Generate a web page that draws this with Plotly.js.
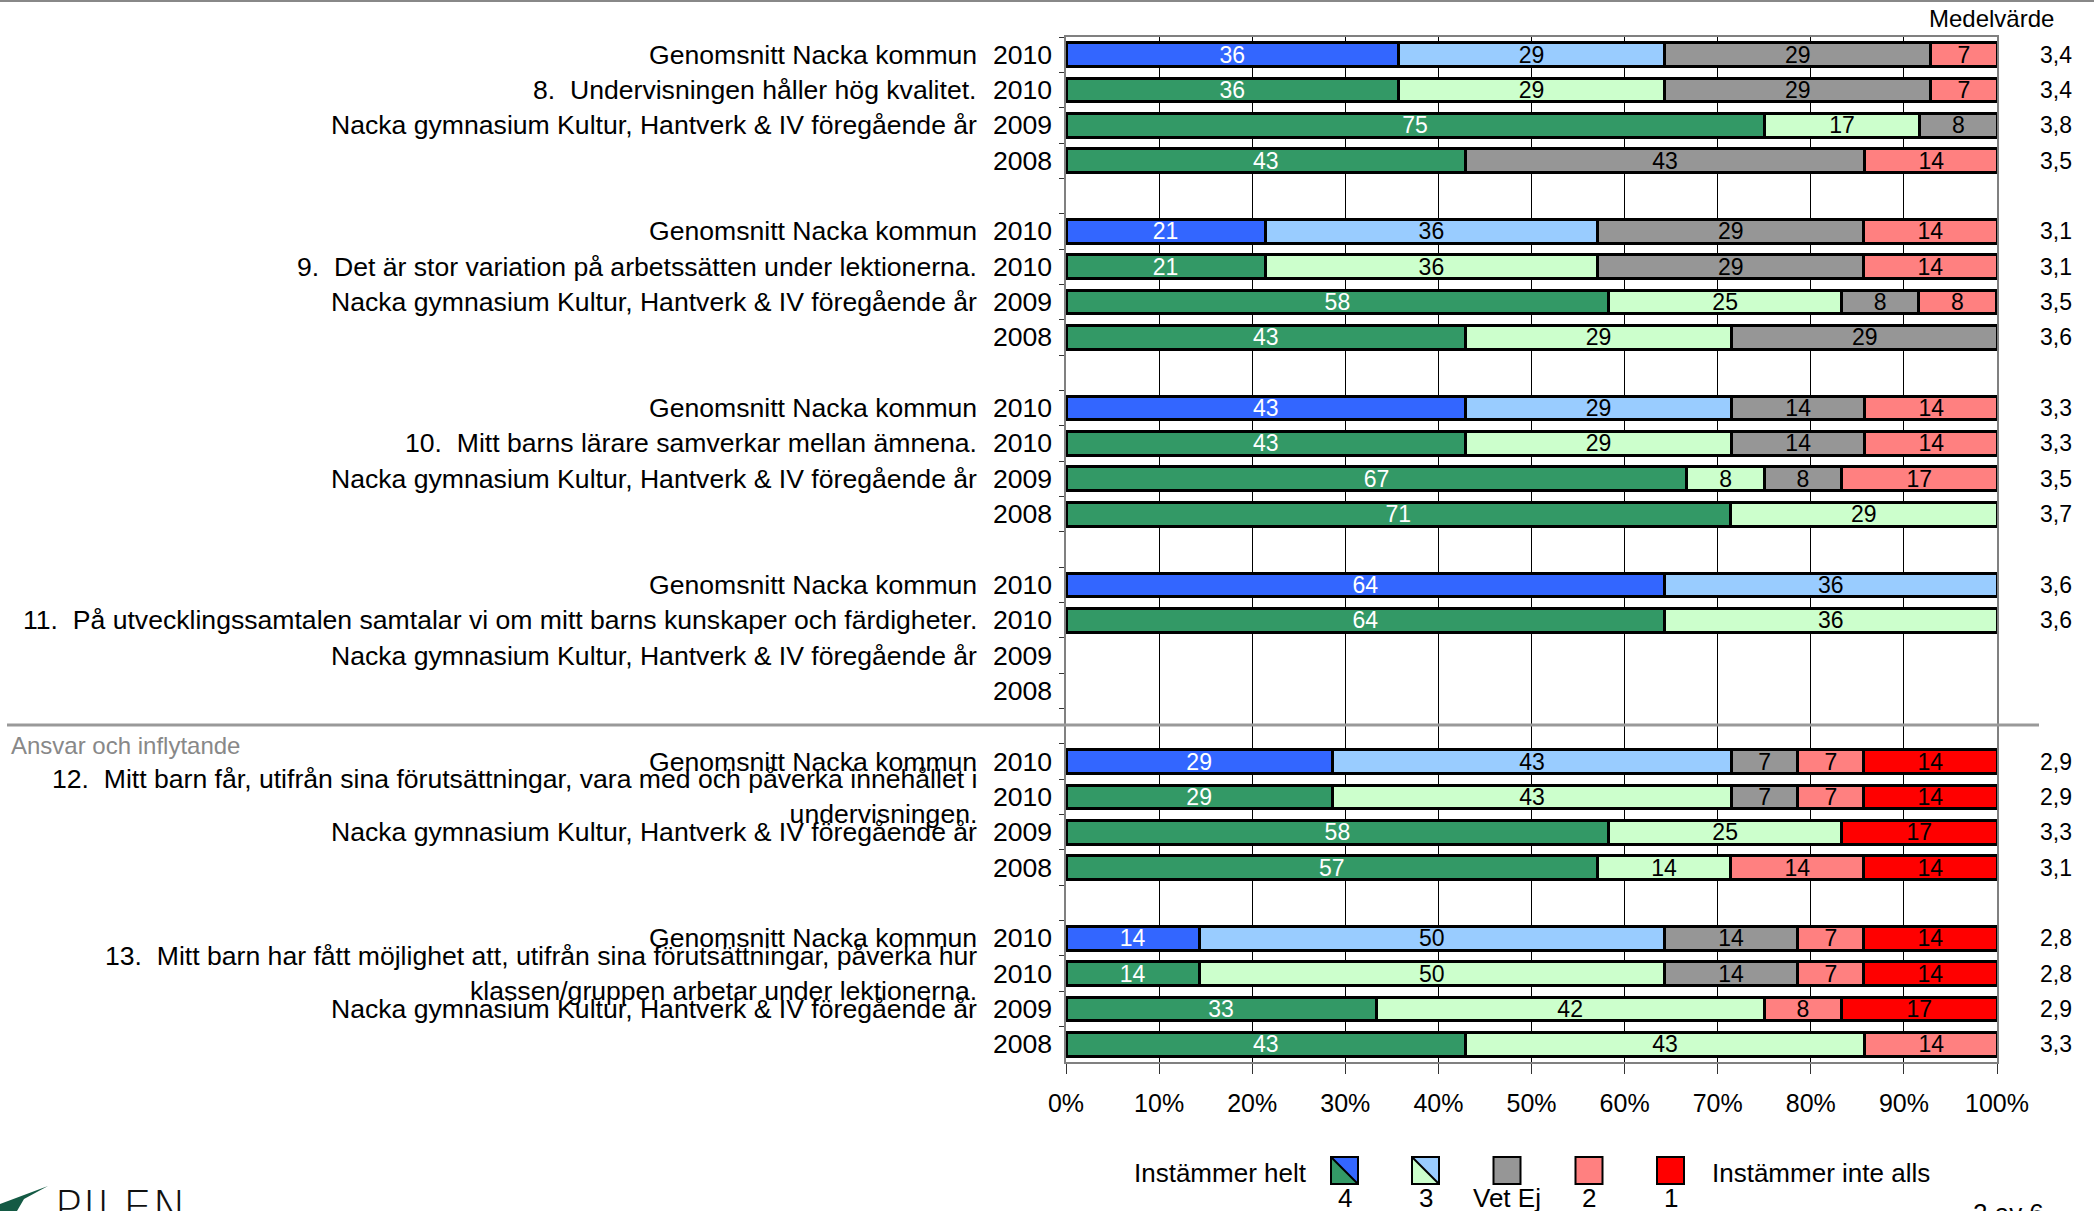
<!DOCTYPE html>
<html><head><meta charset="utf-8">
<script src="https://cdn.plot.ly/plotly-3.0.1.min.js"></script>
<style>html,body{margin:0;padding:0;background:#fff;} #chart{width:2094px;height:1211px;}</style>
</head><body><div id="chart"></div>
<script>
// ---------- DATA ----------
const questions = [
  "8.\u00a0\u00a0Undervisningen håller hög kvalitet.",
  "9.\u00a0\u00a0Det är stor variation på arbetssätten under lektionerna.",
  "10.\u00a0\u00a0Mitt barns lärare samverkar mellan ämnena.",
  "11.\u00a0\u00a0På utvecklingssamtalen samtalar vi om mitt barns kunskaper och färdigheter.",
  "12.\u00a0\u00a0Mitt barn får, utifrån sina förutsättningar, vara med och påverka innehållet i<br>undervisningen.",
  "13.\u00a0\u00a0Mitt barn har fått möjlighet att, utifrån sina förutsättningar, påverka hur<br>klassen/gruppen arbetar under lektionerna."
];
const rowLabels = ["Genomsnitt Nacka kommun", "", "Nacka gymnasium Kultur, Hantverk & IV föregående år", ""];
const years = ["2010", "2010", "2009", "2008"];
const seriesNames = ["4", "3", "Vet Ej", "2", "1"];
const legendLeft = "Instämmer helt";
const legendRight = "Instämmer inte alls";
const meanTitle = "Medelvärde";
const sectionTitle = "Ansvar och inflytande";

// percent per row (top to bottom, 4 rows per question)
const helt4 = [35.7,35.7,75,42.9, 21.4,21.4,58.3,42.9, 42.9,42.9,66.7,71.4, 64.3,64.3,null,null, 28.6,28.6,58.3,57.1, 14.3,14.3,33.3,42.9];
const val3  = [28.6,28.6,16.7,null, 35.7,35.7,25,28.6, 28.6,28.6,8.3,28.6, 35.7,35.7,null,null, 42.9,42.9,25,14.3, 50,50,41.7,42.9];
const vetEj = [28.6,28.6,8.3,42.9, 28.6,28.6,8.3,28.6, 14.3,14.3,8.3,null, null,null,null,null, 7.1,7.1,null,null, 14.3,14.3,null,null];
const val2  = [7.1,7.1,null,14.3, 14.3,14.3,8.3,null, 14.3,14.3,16.7,null, null,null,null,null, 7.1,7.1,null,14.3, 7.1,7.1,8.3,14.3];
const val1  = [null,null,null,null, null,null,null,null, null,null,null,null, null,null,null,null, 14.3,14.3,16.7,14.3, 14.3,14.3,16.7,null];
const means = ["3,4","3,4","3,8","3,5", "3,1","3,1","3,5","3,6", "3,3","3,3","3,5","3,7", "3,6","3,6","","", "2,9","2,9","3,3","3,1", "2,8","2,8","2,9","3,3"];
const xTicks = [0,10,20,30,40,50,60,70,80,90,100];

// ---------- STYLE ----------
const C = {blue:'#3366FF', lblue:'#99CCFF', green:'#339966', lgreen:'#CCFFCC', gray:'#969696', pink:'#FF8080', red:'#FF0000'};
const FONT = 'Liberation Sans, Arial, Helvetica, sans-serif';
const W = 2094, H = 1211, M = {l:1066, r:97, t:37, b:149};
const PW = W - M.l - M.r, PH = H - M.t - M.b;
const px = x => (x - M.l) / PW;
const py = y => (H - M.b - y) / PH;

// ---------- CATEGORIES ----------
const cats = [], catRow = [], catKind = [];
let k = 0;
questions.forEach((q, g) => {
  for (let r = 0; r < 4; r++) { cats.push('q' + g + 'r' + r); catRow.push(k++); catKind.push(r); }
  if (g < questions.length - 1) { cats.push('gap' + g); catRow.push(-1); catKind.push(-1); }
});
const full = arr => catRow.map(i => i < 0 ? null : arr[i]);
const txt = arr => full(arr).map(v => v == null ? '' : String(Math.round(v)));

const traceDefs = [
  {vals: helt4, col: cats.map((c,i) => catKind[i] === 0 ? C.blue : C.green), tcol: '#FFFFFF'},
  {vals: val3, col: cats.map((c,i) => catKind[i] === 0 ? C.lblue : C.lgreen), tcol: '#000000'},
  {vals: vetEj, col: C.gray, tcol: '#000000'},
  {vals: val2, col: C.pink, tcol: '#000000'},
  {vals: val1, col: C.red, tcol: '#000000'}
];
const data = traceDefs.map((d, i) => ({
  type: 'bar', orientation: 'h', name: seriesNames[i],
  x: full(d.vals), y: cats,
  marker: {color: d.col, line: {color: '#000', width: 3}},
  text: txt(d.vals), textposition: 'inside', insidetextanchor: 'middle',
  textangle: 0, constraintext: 'none',
  textfont: {family: FONT, size: 23, color: d.tcol},
  hoverinfo: 'skip'
}));

// ---------- ANNOTATIONS ----------
const LF = 26.6;
const ann = [];
questions.forEach((q, g) => {
  for (let r = 0; r < 4; r++) {
    const id = 'q' + g + 'r' + r;
    const lab = r === 1 ? q : rowLabels[r];
    if (lab) ann.push({xref:'paper', yref:'y', x: px(979), y: id, xanchor:'right', yanchor:'middle', align:'right', text: lab, showarrow:false, font:{size:LF}});
    ann.push({xref:'paper', yref:'y', x: px(1054), y: id, xanchor:'right', yanchor:'middle', text: years[r], showarrow:false, font:{size:LF}});
    const m = means[g*4 + r];
    if (m) ann.push({xref:'paper', yref:'y', x: px(2056), y: id, xanchor:'center', yanchor:'middle', text: m, showarrow:false, font:{size:23}});
  }
});
ann.push({xref:'paper', yref:'paper', x: px(2056), y: py(19), xanchor:'right', yanchor:'middle', text: meanTitle, showarrow:false, font:{size:24}});
ann.push({xref:'paper', yref:'paper', x: px(9), y: py(745), xanchor:'left', yanchor:'middle', text: sectionTitle, showarrow:false, font:{size:24, color:'#888888'}});
ann.push({xref:'paper', yref:'paper', x: px(1309), y: py(1173), xanchor:'right', yanchor:'middle', text: legendLeft, showarrow:false, font:{size:26}});
ann.push({xref:'paper', yref:'paper', x: px(1710), y: py(1173), xanchor:'left', yanchor:'middle', text: legendRight, showarrow:false, font:{size:26}});
const swX = [1344.5, 1425.5, 1507, 1589, 1670.5];
seriesNames.forEach((s, i) => ann.push({xref:'paper', yref:'paper', x: px(swX[i]), y: py(1198), xanchor:'center', yanchor:'middle', text: s, showarrow:false, font:{size:26}}));
ann.push({xref:'paper', yref:'paper', x: px(2008), y: py(1196), xanchor:'center', yanchor:'top', text: '2 av 6', showarrow:false, font:{size:26}});
ann.push({xref:'paper', yref:'paper', x: px(52), y: py(1178), xanchor:'left', yanchor:'top', text: 'PILEN', showarrow:false, font:{family:'DejaVu Sans, Lato, sans-serif', size:47, weight:200, color:'#111'}});

// ---------- SHAPES ----------
const shapes = [];
shapes.push({type:'line', xref:'paper', yref:'paper', x0: px(0), x1: px(W), y0: py(1), y1: py(1), line:{color:'#888', width:2}});
shapes.push({type:'line', xref:'paper', yref:'paper', x0: px(7), x1: px(2039), y0: py(725), y1: py(725), line:{color:'#999', width:3}});
const half = 13.5, sy0 = 1157, sy1 = 1184;
const P = (x, y) => px(x) + ',' + py(y);
const swCols = [[C.green, C.blue], [C.lgreen, C.lblue], [C.gray], [C.pink], [C.red]];
swX.forEach((cx, i) => {
  const x0 = cx - half, x1 = cx + half;
  if (swCols[i].length === 2) {
    shapes.push({type:'path', xref:'paper', yref:'paper', path: 'M' + P(x0,sy0) + 'L' + P(x1,sy1) + 'L' + P(x0,sy1) + 'Z', fillcolor: swCols[i][0], line:{width:0}});
    shapes.push({type:'path', xref:'paper', yref:'paper', path: 'M' + P(x0,sy0) + 'L' + P(x1,sy0) + 'L' + P(x1,sy1) + 'Z', fillcolor: swCols[i][1], line:{width:0}});
    shapes.push({type:'line', xref:'paper', yref:'paper', x0: px(x0), y0: py(sy0), x1: px(x1), y1: py(sy1), line:{color:'#000', width:2}});
    shapes.push({type:'rect', xref:'paper', yref:'paper', x0: px(x0), y0: py(sy0), x1: px(x1), y1: py(sy1), line:{color:'#000', width:2}});
  } else {
    shapes.push({type:'rect', xref:'paper', yref:'paper', x0: px(x0), y0: py(sy0), x1: px(x1), y1: py(sy1), fillcolor: swCols[i][0], line:{color:'#000', width:2}});
  }
});
// logo swoosh
shapes.push({type:'path', xref:'paper', yref:'paper', path: 'M' + P(0,1204) + 'L' + P(48,1186) + 'L' + P(24,1199) + 'L' + P(17,1211) + 'L' + P(0,1211) + 'Z', fillcolor:'#145A44', line:{width:0}});

const layout = {
  width: W, height: H,
  margin: {l: M.l, r: M.r, t: M.t, b: M.b, pad: 0},
  paper_bgcolor: '#fff', plot_bgcolor: '#fff',
  barmode: 'stack', bargap: 0.33, showlegend: false,
  font: {family: FONT, size: 26, color: '#000'},
  xaxis: {range: [0, 100], tickmode: 'array', tickvals: xTicks, ticktext: xTicks.map(v => v + '%'),
    showgrid: true, gridcolor: '#000', gridwidth: 1, zeroline: false,
    showline: true, linecolor: '#808080', linewidth: 2, mirror: true,
    ticks: 'outside', ticklen: 10, tickcolor: '#333', tickfont: {size: 25}, ticklabelstandoff: 8, fixedrange: true},
  yaxis: {type: 'category', categoryorder: 'array', categoryarray: cats, range: [cats.length - 0.5, -0.5],
    tickmode: 'linear', tick0: 0, dtick: 1, tickson: 'boundaries', ticks: 'outside', ticklen: 5, tickcolor: '#333',
    showticklabels: false, showgrid: false, zeroline: false,
    showline: true, linecolor: '#808080', linewidth: 2, mirror: true, fixedrange: true},
  annotations: ann, shapes: shapes, hovermode: false
};
Plotly.newPlot('chart', data, layout, {staticPlot: true, displayModeBar: false});
</script></body></html>
